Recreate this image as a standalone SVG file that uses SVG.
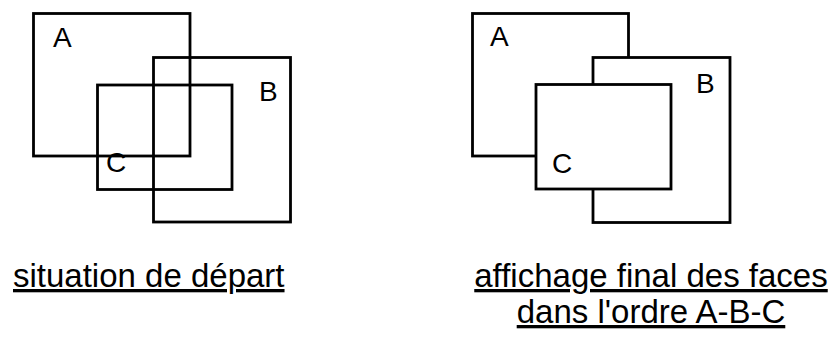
<svg xmlns="http://www.w3.org/2000/svg" width="834" height="338" viewBox="0 0 834 338">
<style>
  .face { fill: none; stroke: #000; stroke-width: 2.8; }
  .faceFilled { fill: #fff; stroke: #000; stroke-width: 2.8; }
  .lbl { font-family: "Liberation Sans", Arial, Helvetica, sans-serif; font-size: 28px; fill: #000; }
  .cap { font-family: "Liberation Sans", Arial, Helvetica, sans-serif; font-size: 33px; fill: #000; text-decoration: underline; }
</style>
<rect width="834" height="338" fill="#fff"/>
<g id="left">
  <g id="left-A"><rect class="face" x="33.5" y="13.5" width="156.5" height="142.5"/><text class="lbl" x="53" y="46.5">A</text></g>
  <g id="left-B"><rect class="face" x="153.5" y="57.5" width="137" height="164.5"/><text class="lbl" x="259" y="101">B</text></g>
  <g id="left-C"><rect class="face" x="97.5" y="85" width="134.5" height="104.5"/><text class="lbl" x="106" y="172">C</text></g>
</g>
<g id="right">
  <g id="right-A"><rect class="faceFilled" x="472.5" y="13.5" width="156" height="142.5"/><text class="lbl" x="490" y="46">A</text></g>
  <g id="right-B"><rect class="faceFilled" x="593" y="57.5" width="137" height="165"/><text class="lbl" x="696" y="93">B</text></g>
  <g id="right-C"><rect class="faceFilled" x="536" y="84.5" width="135" height="104.5"/><text class="lbl" x="552" y="173">C</text></g>
</g>
<g id="captions">
  <text class="cap" x="13" y="287">situation de départ</text>
  <text class="cap" x="651" y="287" text-anchor="middle">affichage final des faces</text>
  <text class="cap" x="651" y="323" text-anchor="middle">dans l'ordre A-B-C</text>
</g>
<g id="connectors"></g>
</svg>
